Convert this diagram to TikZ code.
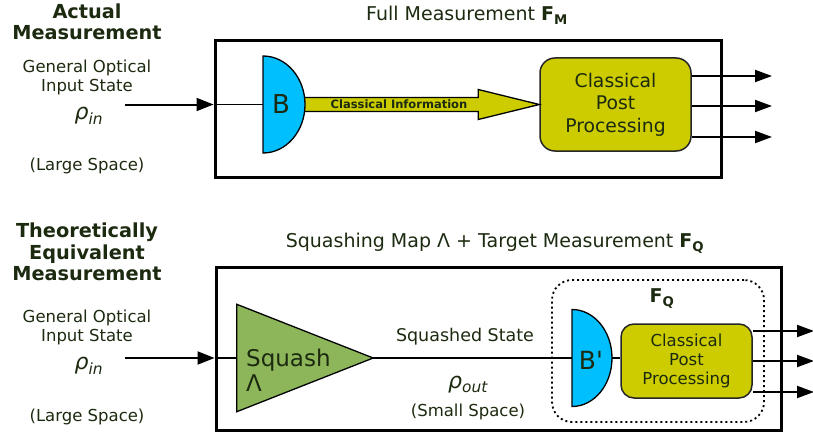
\documentclass[tikz,border=0pt]{standalone}
\usepackage{fontspec}
\setmainfont{DejaVu Sans}
\usepackage{xcolor}
\usetikzlibrary{arrows.meta,calc}

\definecolor{txtgreen}{RGB}{28,42,16}
\definecolor{detblue}{RGB}{0,191,255}
\definecolor{cppyellow}{RGB}{204,204,0}
\definecolor{squashgreen}{RGB}{141,182,90}
\newcommand{\fsz}[2]{\fontsize{#1}{#2}\selectfont}

\begin{document}
\begin{tikzpicture}[x=1pt,y=-1pt,
    txt/.style={text=txtgreen, align=center, inner sep=0pt},
    heading/.style={txt, font=\bfseries\fsz{19.3}{21.5}},
    side/.style={txt, font=\fsz{16.5}{19}},
    rho/.style={txt, font=\itshape\fsz{22}{24}},
    title/.style={txt, font=\fsz{19}{22}},
    bigbox/.style={draw, line width=3pt, inner sep=0pt},
    thin/.style={line width=1.3pt},
    inarrow/.style={line width=2pt, -{Triangle[length=17pt,width=13pt]}},
    outarrow/.style={line width=2pt, -{Triangle[length=17pt,width=12pt]}},
    detector/.style={draw, line width=1.3pt, fill=detblue},
    cpp/.style={txt, draw=black!85, line width=1.5pt, fill=cppyellow, rounded corners=15pt},
    fat/.style={draw, line width=1.3pt, fill=cppyellow}]
            \useasboundingbox (0,0) rectangle (813,436);
            \node[heading] (actual) at (87,22) {Actual\\Measurement};
            \node[side] (inputA) at (87,77) {General Optical\\Input State};
            \node[rho] (rhoA) at (89,116) {ρ\textsubscript{in}};
            \node[side] (largeA) at (87,166) {(Large Space)};
            \node[title] (titleA) at (467,15) {Full Measurement \textbf{F\textsubscript{M}}};
            \node[bigbox, minimum width=506pt, minimum height=136pt] (boxA) at (468,109) {};
            \coordinate (srcA) at (125,104.5);
            \draw[inarrow] (srcA) -- (srcA -| boxA.west);
            \coordinate (detA) at (263,104.5);
            \draw[thin] (detA -| boxA.west) -- (detA);
            \node[cpp, minimum width=151pt, minimum height=93pt, font=\fsz{18.8}{22.5}] (cppA) at (615.5,104.5) {Classical\\Post\\Processing};
            \draw[fat] ($(detA)+(41,-7)$) -- ($(cppA.west)+(-61,-7)$) -- ++(0,-8) -- (cppA.west) -- ++(-61,15) -- ++(0,-8) -- ($(detA)+(41,7)$) -- cycle;
            \draw[detector] ([yshift=48.5pt]detA) arc[start angle=90, end angle=-90, x radius=42pt, y radius=48.5pt] -- cycle;
            \node[txt, font=\fsz{26}{28}] (labelB) at (281,104.5) {B};
            \node[txt, font=\bfseries\fsz{11.5}{13}] (infoA) at (399,104.5) {Classical Information};
            \foreach \y [count=\i] in {76,106,137} {
                \coordinate (outA\i) at (772,\y);
                \draw[outarrow] (cppA.east |- outA\i) -- (outA\i);
            }

            \node[heading] (theory) at (87,252) {Theoretically\\Equivalent\\Measurement};
            \node[side] (inputB) at (87,327) {General Optical\\Input State};
            \node[rho] (rhoB) at (89,366) {ρ\textsubscript{in}};
            \node[side] (largeB) at (87,417) {(Large Space)};
            \node[title] (titleB) at (495,243) {Squashing Map Λ + Target Measurement \textbf{F\textsubscript{Q}}};
            \node[bigbox, minimum width=565pt, minimum height=163pt] (boxB) at (498.5,349) {};
            \coordinate (srcB) at (125,358);
            \draw[inarrow] (srcB) -- (srcB -| boxB.west);
            \node[draw=black, dash pattern=on 2pt off 3pt, line width=1.8pt, rounded corners=20pt, minimum width=212pt, minimum height=142pt] (targetQ) at (658,351) {};
            \node[txt, font=\bfseries\fsz{19}{22}] (labelFQ) at (662,299) {F\textsubscript{Q}};
            \node[minimum width=136pt, minimum height=107pt, inner sep=0pt] (squash) at (305,358) {};
            \draw[thin] (squash.west -| boxB.west) -- (squash.west);
            \draw[thin, draw, fill=squashgreen] (squash.north west) -- (squash.east) -- (squash.south west) -- cycle;
            \node[txt, align=left, anchor=west, font=\fsz{23}{25}] (squashlbl) at (246,370) {Squash\\Λ};
            \coordinate (detB) at (572,358);
            \draw[thin] (squash.east) -- (detB);
            \node[cpp, minimum width=131pt, minimum height=74pt, rounded corners=13pt, font=\fsz{16.5}{19}] (cppB) at (686.5,361) {Classical\\Post\\Processing};
            \draw[thin] ($(detB)+(40,0)$) -- (cppB.west |- detB);
            \draw[detector] ([yshift=48.5pt]detB) arc[start angle=90, end angle=-90, x radius=40pt, y radius=48.5pt] -- cycle;
            \node[txt, font=\fsz{25}{27}] (labelB2) at (591,360) {B\textquotesingle};
            \node[txt, font=\fsz{17.5}{20}] (stateOut) at (465,337) {Squashed State};
            \node[rho] (rhoOut) at (468,385) {ρ\textsubscript{out}};
            \node[side] (smallB) at (468,412) {(Small Space)};
            \foreach \y [count=\i] in {331,361,392} {
                \coordinate (outB\i) at (814,\y);
                \draw[outarrow] (cppB.east |- outB\i) -- (outB\i);
            }
        \end{tikzpicture}
\end{document}
